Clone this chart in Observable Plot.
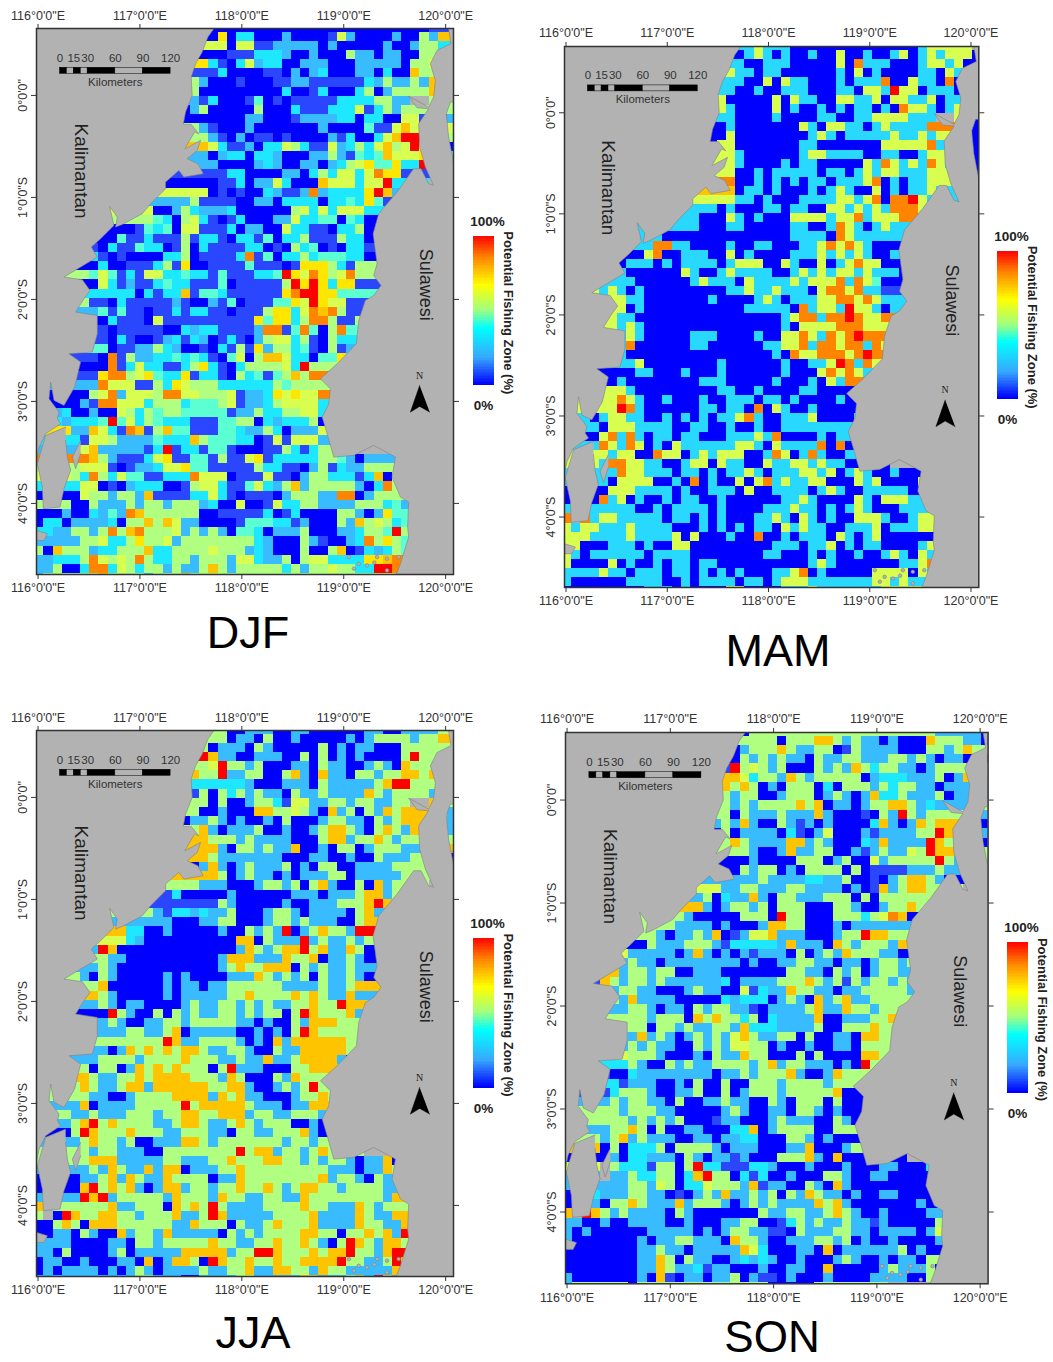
<!DOCTYPE html>
<html><head><meta charset="utf-8">
<script src="https://cdn.jsdelivr.net/npm/d3@7"></script>
<script src="https://cdn.jsdelivr.net/npm/@observablehq/plot@0.6"></script>
<style>html,body{margin:0;background:#fff}#root{position:relative;width:1053px;height:1362px;overflow:hidden;font-family:"Liberation Sans",Arial,sans-serif}
#root svg{position:absolute;overflow:visible;background:transparent}
.season{position:absolute;font-size:45px;line-height:38px;transform:translateX(-50%);color:#000;white-space:nowrap}</style>
</head><body><div id="root"></div>
<script>
const levels=["0","1","2","c","3","4","5","6","7","8","9","A"];
const levelColors=["#0000ff","#2a46ff","#38bcff","#28d8ff","#1ee8ff","#5cffd2","#b0ff80","#d8ff50","#ffe600","#ffc400","#ff8400","#ff0000"];
const legendStops=[0,18,38,50,67,85,100];
const legendColors=["#0000ff","#38a8ff","#00ffff","#a0ff80","#ffff00","#ff8800","#ff0000"];
const lonTicks=[116,117,118,119,120];
const latTicks=[0,-1,-2,-3,-4];
const scaleKm=[0,15,30,60,90,120];
const scaleSegments=[[0,7.5,"#000"],[7.5,15,"#b2b2b2"],[15,22.5,"#000"],[22.5,30,"#b2b2b2"],[30,60,"#000"],[60,90,"#b2b2b2"],[90,120,"#000"]];
const westCoast=[[117.725,0.654],[117.667,0.572],[117.611,0.425],[117.546,0.31],[117.503,0.18],[117.513,0],[117.448,-0.163],[117.425,-0.284],[117.503,-0.284],[117.578,-0.376],[117.536,-0.359],[117.441,-0.523],[117.595,-0.441],[117.562,-0.539],[117.464,-0.621],[117.569,-0.67],[117.621,-0.768],[117.431,-0.801],[117.382,-0.735],[117.252,-0.85],[117.252,-0.915],[117.105,-1.062],[117.023,-1.16],[116.827,-1.265],[116.761,-1.291],[116.778,-1.193],[116.703,-1.088],[116.745,-1.275],[116.614,-1.405],[116.523,-1.487],[116.582,-1.585],[116.418,-1.683],[116.255,-1.781],[116.435,-1.807],[116.51,-1.912],[116.451,-1.993],[116.369,-2.124],[116.582,-2.157],[116.582,-2.337],[116.533,-2.516],[116.304,-2.533],[116.418,-2.614],[116.359,-2.859],[116.255,-3.039],[116.157,-2.99],[116.124,-2.81],[116.108,-2.974],[116.206,-3.105],[116.19,-3.17],[116.222,-3.219],[116.075,-3.317],[116.01,-3.448],[115.987,-3.562],[115.9,-3.562],[115.9,0.75],[117.725,0.75]];
const peninsula=[[116.271,-3.252],[116.075,-3.333],[115.993,-3.611],[116.042,-3.84],[116.052,-4.052],[116.216,-4.036],[116.255,-3.856],[116.32,-3.676],[116.288,-3.546],[116.271,-3.382]];
const islet=[[116.418,-3.382],[116.337,-3.546],[116.369,-3.66],[116.418,-3.513]];
const speck=[[115.987,-4.265],[116.092,-4.297],[116.059,-4.363],[115.987,-4.363]];
const reefIsles=[[119.05,-4.526],[119.147,-4.592],[119.229,-4.608],[119.327,-4.526],[119.425,-4.542],[119.539,-4.526],[119.425,-4.657],[119.1,-4.64],[119.3,-4.58]];
const eastCoast=[[120.029,0.75],[120.029,0.654],[120.052,0.507],[119.915,0.441],[119.85,0.31],[119.899,0.147],[119.882,-0.016],[119.833,-0.114],[119.637,-0.007],[119.719,-0.121],[119.833,-0.131],[119.735,-0.278],[119.745,-0.507],[119.801,-0.703],[119.882,-0.882],[119.833,-0.866],[119.758,-0.719],[119.686,-0.719],[119.523,-0.948],[119.343,-1.16],[119.288,-1.356],[119.327,-1.65],[119.294,-1.765],[119.366,-1.863],[119.294,-1.961],[119.212,-2.01],[119.147,-2.206],[119.124,-2.435],[118.935,-2.631],[118.771,-2.778],[118.869,-2.876],[118.853,-3.023],[118.788,-3.154],[118.837,-3.317],[118.902,-3.546],[119.098,-3.529],[119.294,-3.431],[119.507,-3.546],[119.474,-3.742],[119.556,-3.938],[119.637,-3.987],[119.627,-4.232],[119.637,-4.33],[119.556,-4.592],[119.474,-4.8],[120.2,-4.8],[120.2,-0.67],[120.08,-0.67],[120.029,-0.408],[120.007,-0.18],[120.046,-0.065],[120.2,-0.065],[120.2,0.75]];
const northArrow=[[119.745,-2.843],[119.654,-3.105],[119.745,-3.049],[119.843,-3.105]];

const djfRows=["20|0000000000000000000000011110",
"19|07033000200001620000200528","19|66066112222202000002002553","19|0011133320020005220220055","18|73103623300222000222220556","17|111300001102023000220300855","17|5200010001122111111325225288","17|500000000030013000350255558","17|213000140101111133335522..5;45|5","16|025000005000311133361352555;45|5","16|000000022000122223303300661;45|2","17|5210002000000020000411686A;45|6","18|5210201101000021300368AAA;45|5","18|86311203365311623536856A7;45|0","18|2023303320002252143486667;45|4","17|2220000232002202356744733A","19|11330000220353663697711","19|0113022630008666366A3","17|66010100321129233337A82","15|225111100220333303343741","12|6002532223000000563636663","12|54305631013000226334404300","9|0014340661113022006331103350","7|004113111513310331403351115330","6|1031143301503111133010534010331","6|3101000033501111391403353444330","6|0300111351700111141110177753155","5|5464131663343314111334A769756955","6|0631211343311140111115A7A737711","6|33333031338144311111179AA77444","5|5110311111210021401114476A76611","6|241411011313311011157736989511","7|03111061111111111747735995115","7|1011111003233111129914940594","7|1031001231320131025663510533","7|4011225320010315172553410512","6|10915223343431046058863304473","7|0913633113573103555563A5","6|1799567433713310534145859","6|2966611537655533333354555","5|056926665996655561223767669","3|00219966635553444561223566663","2|230020065354554444412253355663","2|323334A46354333111445503233350","3|72286319815844111443225302226","3|33166522224333854443301616662","4|2682222213A13314410001153135","5|9852111367114415116713333355420222","4|566610122366744111115331102513225555","3|6539536441133396660111611025533313805","3|3366010233300156631146325825555520395","3|00655255281111336310111025552299025555","3|50052225255255523006001633552222555342","1|0020032429855555500111113013000055202744","0|03302222305585862200001444331200052856534","1|32255259589555625252044302225000223554A5","0|22222556335755625555555532000521002395754","0|50855523355583355556555232000500580132354","0|223335965659533552555266322505663333778995","0|2250039936535525225852555553525565533AA99","0|25555558555525558555555555555555555555558"];

const mamRows=["20|c6ccc00000000000000c66",
"19|0c6c0c00c00600c00c60c6c6660","19|c00ccc00000609ccc000c66c60","18|6cc0cc000000c060c0000cc06c","17|ccc00606cc000c0ccc9006cc090","17|cc00c00ccc000cc066cA660ccc0","17|600000606cc0066cc6066cc60cc","17|6c000060c00c0c0cc0c0966c0c6","18|c0000c0000cc00cc6666ccc..6;45|0","17|0c00000006c066cc0c6cccc99;45|0","16|00600000000c6c0ccccc6cc6c669;45|0","16|0660000000cc0000000666669cc;45|0","18|6c000000c66cccc00cc00c66c;45|0","18|6c0000c0cc000006c96c6c96c;45|0","18|600c0ccccc0cc0c6c66ccc66;45|0","18|900c0c0c0cc0ccc690c0cc66","18|80cc0c000c0c6c0060c0cc6c","18|6cc0c000cccc66c69099A6c","15|cc0c000cc0cc0066c6c6c9996","14|c0006c0c0006666c669c66699","12|ccc000cc00000cc00c96c0c6ccc","10|c00000000000000cccc096cccccc","9|c99cc0000c00cc000cc69696c000","8|06900ccc0060c0000ccc6c6c6c00c","6|0ccc0c0cccc0c666006c0060c696600","6|c0000006c00c6cccc00c6c6c66c6ccc0","6|cc000000c6ccc06cccc6c6669c9640","3|6c6c0c000000000cc6cc6ccc069969cc11","5|66cc0000000c0000c6c0ccc6699696cc","5|660c00000000000ccccc09c66cA66c0c","5|6cc0000000000000000c699c99A9669","5|6c6c000000000000000c06666999666","6|c6c00000ccc0000c006696c969A999","6|c9000000cc000000cc669c99699c96","6|c0000000000000000c096699969A9","6|cc600000000c000000c00cc6A9c96","7|0cc000c000c000000c00069696c","4|00c00000000ccc00000c000c06c9","5|66c000000000cc00c0000cc00","5|696c00c000c00ccc0cc0c0000c0","5|6A9c000000cc0cc0906c00c00000","2|c0c66cc00c0c0c0cc69c00ccc60000c","3|c0666cccc00cc00c00c00cccccccc","3|069c9c0cc0cc000ccc6c90000c0c","3|c96c960c06cccccc66c06cccc9090","3|66c66009660c6c66600c960c9c00c","3|6c9966cc00c6606cc006cc66c6cc00","3|ccc966ccc0cc0c0cc6c0ccc66c60c6c00c000","4|c0666600c090c006069c6cc660006c600006","4|0666cccc0c00ccc0600cccc0c6c00ccccc0","0|00.09c60c00c0cc00c000000cc6c00006c0666cc","0|c..ccccc00c0cccc0c0000ccc6cc0c0c6c000cccc","0|9.9c66ccccc0cc0c0c000cc6c06c0c00666c00c66","0|6c66ccc6cccc000c0c0c0cc06c6cc00ccc60ccc66","0|666cccc6cccc606000c00900c0ccc06c0c60000000","0|66000ccc0c0066000000000ccc0cc60c0cc0000c6","0|6c0cccccc0cccc00000000cc000c0c00c00c6c06c","0|6000060c00c0cc0cc0000000000c6c0000000cc69","0|cccc6cc0ccc0cc0c0c0c000cc690c00000666606c","0|c000000cccc00c0cccc0cc0c666ccccccc66c6cc","0|000000000ccc0c0000660000ccc6ccccccc66666c"];

const jjaRows=["19|5500222002200000022002222555555",
"19|550220500200000202555525588","18|5022205200000502022000555555","18|A8220022200505020200005A552","18|56A55250002205220025208555","17|855A22550058208220552558858","17|3333332000222052222258AA55","17|150535252205225222285255552","17|550500255316622552552255..8A;45|5","17|500200088556520825052858885;45|2","16|022520200205000255220525888;45|2","16|658202225002002588520585288;45|2","18|855525222200058825585255;45|5","18|882055252280020550255522;45|8","18|852222222000220020052225;45|0","17|028202522250205500222255","18|88502522020222550222225","17|52220002552505820050825","14|13000002000000222022258825","14|11111152000002002225558A8","12|52133232250002552022220582","12|2220002255000255252220058","9|833002000002005252A0258552AA","8|663200000000008805222A2522525","6|2A800000000000002852588A5822850","7|522000000000028882228558022520","6|2520000000000025855888052522522","4|520520000020200002228525250522520","6|5800000020220225555552222522588","6|852000002022222558555585852282","6|252022000025225525252255855A8","7|0A52005052522552525505A855582","7|2520022552555552202005288855","7|2225522580222220020205A85555","7|5555555A82255552020828888885","7|2028585858852255200522888885","6|25555255558555225228225888820","5|5055028585855505A2220005588","4|885225585888855528500052855","4|58522588288888855882002525A5","4|55220025555888828582200025585","3|2280222255555A588888522202288","3|52252225552558855888255225552","3|258A5855552258852258525550020","3|05A85558555225552205522555820","3|22585525002228852555555525525","5|52552220055555555A5882552585","5|58882222255222558555885525255202280","5|25285228288022255855555555522202285","4|02258285228555502285555555582552052","4|08A585820288255255855852588552555522","0|2..22A8A25555528555285522552285555555528","0|8.55555582255508585A522225555855222852555","0|5.0A855885525558225A822222555582222852288","0|00585088855555522855505225855582222855228","0|0022052008255282222205252555588550558582A","0|2222000022055255555855225585585205A852885","0|220500002502222288888255AA85558588A5528AA","0|0220020002208028850A8558558558888A55225A8","0|02022220202520222252255822885528552222288","0|2222222222255222002222552222288222582A82555"];

const sonRows=["19|0555555555555555555552222200",
"19|555505558852522020008555220","18|025558522550152222000552585","18|05252522052255222552520220","17|1A5652500052528535522025555","18|86355285255555023332225028","17|85850205550305552535522022","17|525500255502520283352225022","17|525255558580220255885232;45|5","17|5052225222820001052A5255;45|2","16|252820052120200003820285888;45|0","16|050222203102600021222255A8;45|2","17|5852222882520003282222A85;45|0","18|552002822550021252265A88;45|5","18|0020000555025006255555A52;45|5","18|052550205555050111122252","19|22522223322500102588520","16|622552225522220201825885","14|2503228205522255505055555","13|88202552505550005520025585","12|52000005550A55000555356980","11|522220200028855000202222222","9|52022528012668222000255A8855","8|052225552133333282220852555285","6|6222220282020212220502528555220","6|25220222222220200225522022025525","5|825525500222000000055220525025522","3|18525525222222302222555852515255252","4|5255220002522006132285522022555552","4|5528222200000323330252082582255555","6|255202205255221022225822855255","6|555255508585535032222800222558","6|555055252255283332222500555855","6|32825202525268522550500220885","6|25252200525266550200200220555","6|65552000205228550005050000885","6|35200525225555258255222020A5","4|100322222222022525558200285","5|31222002050050055525555255","4|1355520022500502555255555800","3|225255220500225220052055505000","3|55525552200000252002205520200","3|55552525250001220002522200520","2|22255850500220003380255550055","3|52582522200220223300055202000","3|80503335055552022200022800025","4|020332220520221200055582080000","3|6.533315505A3311133200020002000220003","3|2.2253355038A550313002000552002200000","4|222552650336555281220052082000000000","0|0..32225522010252822525052852202002200000","0|0..20558522282555202525222285820000000200","0|8.A85252222052000000052255225852002000022","0|22002002222002000225500135252252212000005","0|20200000022222020255221105222552202222026","0|200000002022552220855200222552502002000025","0|0000000022522022222863000220802222225020","0|0000000022850522002323200200025200202205","0|00000000228522312200020022008000002522250","0|2000000020810220225021102000200002222005","0|25555550555555555555550000055555"];

const lonDomain=[115.985,120.077], latDomain=[-4.697,0.656];
const lon0=115.967, lat0=0.621, cell=0.09;
const landGray="#b2b2b2", inkGray="#333";
const kmToLon=km=>116.216+km*1.085/120;
const fmtLon=d=>`${d}°0'0"E`;
const fmtLat=d=>d===0?`0°0'0"`:`${-d}°0'0"S`;
const cellsOf=rows=>rows.flatMap((row,i)=>row.split(";").flatMap((seg,si)=>{
  const [c,s]=seg.split("|");
  const start=+c, out=[...s].flatMap((ch,j)=>ch==="."?[]:[{col:start+j,row:i-1,v:ch}]);
  if(si===0&&out.length){
    const a=out[0],b=out[out.length-1];
    for(let k=1;k<=6&&a.col-k>=0;k++)out.unshift({col:a.col-k,row:i-1,v:a.v});
    for(let k=1;k<=3;k++)out.push({col:b.col+k,row:i-1,v:b.v});
  }
  return out;
}));
const root=document.getElementById("root");
const panels=[
 {name:"DJF",rows:djfRows,frame:[36,28,417,546],bar:[472.7,235.7,20.6,148.6],title:[248,613.5],size:45},
 {name:"MAM",rows:mamRows,frame:[563.7,45.7,414.3,541],bar:[997.3,251,21,147.3],title:[778,631.5],size:45},
 {name:"JJA",rows:jjaRows,frame:[36,730,417,546],bar:[472.7,937.7,20.6,149],title:[253,1313.5],size:45},
 {name:"SON",rows:sonRows,frame:[564.7,732,422.6,551.3],bar:[1007,941.7,21,150],title:[772,1318],size:44}
];
const pt={x:d=>d[0],y:d=>d[1]};
for(const p of panels){
  const [fx,fy,fw,fh]=p.frame;
  const land=a=>Plot.line(a,{...pt,fill:landGray,stroke:"#808080",strokeWidth:0.6,clip:"frame"});
  const chart=Plot.plot({
    width:fw+36+30,height:fh+28+28,marginLeft:36,marginRight:30,marginTop:28,marginBottom:28,
    x:{domain:lonDomain},y:{domain:latDomain},
    color:{type:"ordinal",domain:levels,range:levelColors},
    style:{fontFamily:"Liberation Sans",background:"transparent"},
    marks:[
      Plot.frame({fill:landGray,stroke:null}),
      Plot.rect(cellsOf(p.rows),{x1:d=>lon0+d.col*cell,x2:d=>lon0+(d.col+1)*cell,y1:d=>lat0-d.row*cell,y2:d=>lat0-(d.row+1)*cell,fill:"v",clip:"frame",shapeRendering:"crispEdges"}),
      land(westCoast),land(peninsula),land(islet),land(speck),land(eastCoast),
      Plot.dot(reefIsles,{...pt,r:1.8,fill:landGray,stroke:"#808080",strokeWidth:0.6}),
      Plot.rect(scaleSegments,{x1:d=>kmToLon(d[0]),x2:d=>kmToLon(d[1]),y1:()=>0.212,y2:()=>0.271,fill:d=>d[2],stroke:"#000",strokeWidth:0.5}),
      Plot.text(scaleKm,{x:d=>kmToLon(d),y:()=>0.366,text:d=>String(d),fontSize:11.5,fill:inkGray}),
      Plot.text(["Kilometers"],{x:()=>116.758,y:()=>0.131,text:d=>d,fontSize:11.5,fill:inkGray}),
      Plot.text(["Kalimantan"],{x:()=>116.418,y:()=>-0.742,text:d=>d,rotate:90,fontSize:19,fill:"#222"}),
      Plot.text(["Sulawesi"],{x:()=>119.807,y:()=>-1.856,text:d=>d,rotate:90,fontSize:18,fill:"#222"}),
      Plot.line(northArrow,{...pt,fill:"#000",stroke:"#000",strokeWidth:0.5}),
      Plot.text(["N"],{x:()=>119.745,y:()=>-2.745,text:d=>d,fontFamily:"Liberation Serif",fontSize:10,fill:"#222"}),
      Plot.frame({stroke:"#333",strokeWidth:1.5}),
      Plot.axisX({anchor:"top",ticks:lonTicks,tickFormat:fmtLon,tickSize:5,tickPadding:4,fontSize:12.5,color:inkGray,label:null}),
      Plot.axisX({anchor:"bottom",ticks:lonTicks,tickFormat:fmtLon,tickSize:5,tickPadding:4,fontSize:12.5,color:inkGray,label:null}),
      Plot.axisY({anchor:"left",ticks:latTicks,tickFormat:fmtLat,tickRotate:-90,tickSize:5,tickPadding:5,fontSize:12.5,color:inkGray,label:null,textAnchor:"middle"}),
      Plot.axisY({anchor:"right",ticks:latTicks,tickFormat:()=>"",tickSize:5,color:inkGray,label:null})
    ]
  });
  chart.style.left=(fx-36)+"px";chart.style.top=(fy-28)+"px";
  root.appendChild(chart);

  const [bx,by,bw,bh]=p.bar;
  const H=bh+70,W=90;
  const legend=Plot.plot({
    width:W,height:H,margin:0,
    x:{domain:[0,W],range:[0,W],axis:null},y:{domain:[0,H],range:[0,H],axis:null},
    color:{type:"linear",domain:legendStops,range:legendColors,interpolate:"rgb"},
    style:{fontFamily:"Liberation Sans",background:"transparent"},
    marks:[
      Plot.rect(d3.range(100),{x1:()=>10,x2:()=>10+bw,y1:d=>30+(99-d)/100*bh,y2:d=>30+(100-d)/100*bh+0.5,fill:d=>d,shapeRendering:"crispEdges"}),
      Plot.text(["100%"],{x:()=>24,y:()=>15,text:d=>d,fontWeight:"bold",fontSize:13.5,fill:"#222"}),
      Plot.text(["0%"],{x:()=>20,y:()=>30+bh+21,text:d=>d,fontWeight:"bold",fontSize:13.5,fill:"#222"}),
      Plot.text(["Potential Fishing Zone (%)"],{x:()=>45,y:()=>30+bh/2+2,text:d=>d,rotate:90,fontWeight:"bold",fontSize:13,fill:"#222"})
    ]
  });
  legend.style.left=(bx-10)+"px";legend.style.top=(by-30)+"px";
  root.appendChild(legend);

  const t=document.createElement("div");
  t.className="season";t.textContent=p.name;t.style.left=p.title[0]+"px";t.style.top=p.title[1]+"px";t.style.fontSize=p.size+"px";
  root.appendChild(t);
}
</script></body></html>
